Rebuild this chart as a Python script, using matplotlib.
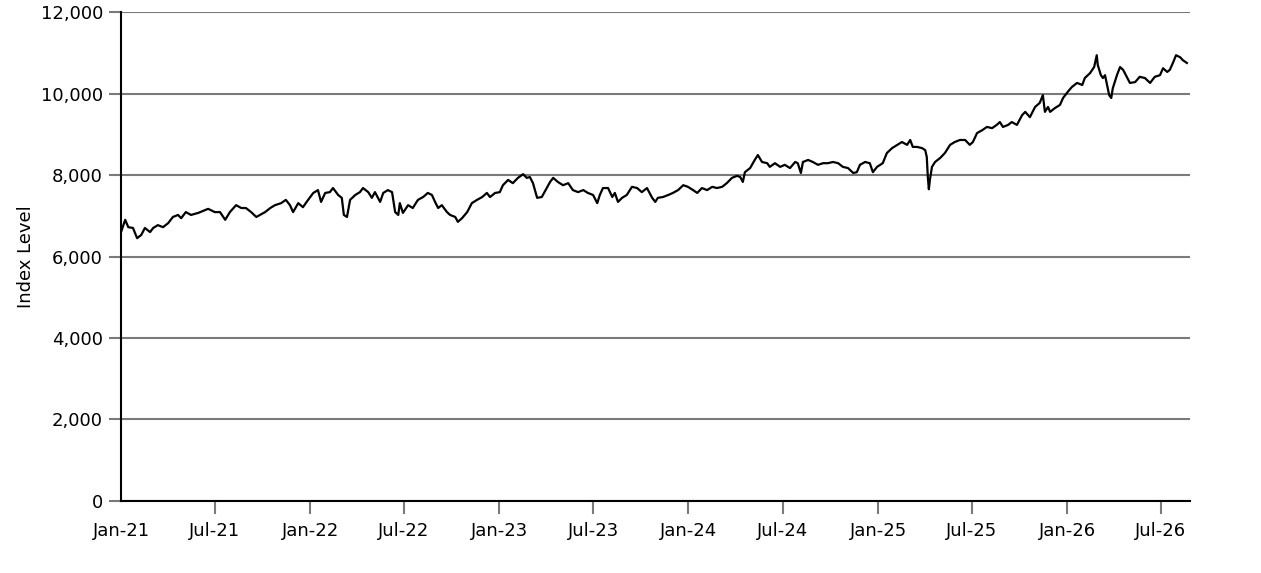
import pandas as pd
import matplotlib
matplotlib.use('Agg')
import matplotlib.pyplot as plt
import matplotlib.dates as mdates
from matplotlib.ticker import FuncFormatter

# index level, month-day per year
days_2021 = ['01-01', '01-09', '01-15', '01-24', '02-01', '02-09', '02-16', '02-26', '03-04', '03-13',
             '03-23', '04-02', '04-11', '04-21', '04-27', '05-06', '05-16', '05-30', '06-12', '06-18',
             '07-01', '07-11', '07-21', '07-30', '08-11', '08-21', '08-30', '09-09', '09-19', '09-26',
             '10-06', '10-16', '10-25', '11-06', '11-15', '11-23', '11-29', '12-09', '12-18', '12-28']
level_2021 = [6600, 6900, 6720, 6700, 6450, 6530, 6700, 6600, 6700, 6770,
              6720, 6820, 6970, 7020, 6940, 7090, 7020, 7070, 7140, 7170,
              7090, 7090, 6900, 7090, 7260, 7190, 7190, 7090, 6970, 7020,
              7090, 7190, 7260, 7310, 7390, 7260, 7090, 7310, 7210, 7390]

days_2022 = ['01-07', '01-16', '01-22', '01-30', '02-08', '02-14', '02-24', '03-03', '03-07', '03-13',
             '03-19', '03-29', '04-07', '04-13', '04-23', '04-30', '05-06', '05-16', '05-22', '05-31',
             '06-08', '06-14', '06-20', '06-23', '06-29', '07-09', '07-18', '07-28', '08-07', '08-16',
             '08-24', '08-30', '09-05', '09-12', '09-22', '09-28', '10-08', '10-13', '10-21', '10-31',
             '11-09', '11-19', '11-29', '12-08', '12-14', '12-24']
level_2022 = [7560, 7630, 7340, 7560, 7580, 7680, 7510, 7440, 7020, 6970,
              7390, 7510, 7580, 7680, 7580, 7440, 7580, 7340, 7560, 7630,
              7580, 7090, 7020, 7310, 7070, 7260, 7190, 7390, 7460, 7560,
              7510, 7340, 7190, 7260, 7090, 7020, 6970, 6850, 6940, 7090,
              7310, 7390, 7460, 7560, 7460, 7560]

days_2023 = ['01-02', '01-08', '01-18', '01-27', '02-06', '02-16', '02-23', '03-01', '03-07', '03-15',
             '03-24', '03-30', '04-09', '04-15', '04-24', '05-04', '05-14', '05-23', '06-02', '06-12',
             '06-21', '07-01', '07-09', '07-14', '07-20', '07-30', '08-07', '08-12', '08-18', '08-26',
             '09-04', '09-14', '09-24', '10-03', '10-13', '10-23', '10-29', '11-03', '11-13', '11-23',
             '12-02', '12-12', '12-22', '12-31']
level_2023 = [7580, 7750, 7880, 7800, 7930, 8020, 7930, 7950, 7800, 7440,
              7460, 7600, 7830, 7930, 7830, 7750, 7800, 7630, 7580, 7630,
              7560, 7510, 7310, 7510, 7680, 7680, 7460, 7560, 7340, 7440,
              7510, 7710, 7680, 7580, 7680, 7440, 7340, 7440, 7460, 7510,
              7560, 7630, 7750, 7710]

days_2024 = ['01-10', '01-18', '01-27', '02-06', '02-16', '02-25', '03-06', '03-15', '03-25', '04-04',
             '04-10', '04-15', '04-19', '04-29', '05-08', '05-14', '05-22', '06-01', '06-06', '06-16',
             '06-26', '07-05', '07-15', '07-25', '07-30', '08-05', '08-09', '08-19', '08-28', '09-07',
             '09-17', '09-26', '10-06', '10-16', '10-25', '11-04', '11-14', '11-21', '11-27', '12-07',
             '12-16', '12-22', '12-30']
level_2024 = [7630, 7560, 7680, 7630, 7710, 7680, 7710, 7800, 7930, 7980,
              7950, 7830, 8070, 8170, 8370, 8490, 8320, 8290, 8200, 8290,
              8200, 8250, 8170, 8320, 8290, 8050, 8320, 8370, 8320, 8250,
              8290, 8290, 8320, 8290, 8200, 8170, 8050, 8070, 8250, 8320,
              8290, 8070, 8200]

days_2025 = ['01-05', '01-10', '01-18', '01-28', '02-07', '02-16', '02-26', '03-04', '03-09', '03-17',
             '03-27', '04-02', '04-05', '04-07', '04-09', '04-11', '04-15', '04-21', '05-01', '05-10',
             '05-20', '05-29', '06-08', '06-18', '06-27', '07-03', '07-11', '07-21', '07-30', '08-09',
             '08-18', '08-24', '08-30', '09-09', '09-16', '09-26', '10-06', '10-12', '10-21', '10-31',
             '11-09', '11-15', '11-19', '11-25', '11-29', '12-08', '12-18', '12-24']
level_2025 = [8250, 8290, 8540, 8660, 8740, 8810, 8740, 8860, 8690, 8690,
              8660, 8610, 8440, 7950, 7650, 7880, 8200, 8320, 8420, 8540,
              8740, 8810, 8860, 8860, 8740, 8810, 9030, 9100, 9180, 9150,
              9230, 9300, 9180, 9230, 9300, 9230, 9470, 9550, 9420, 9670,
              9770, 9960, 9550, 9670, 9550, 9640, 9720, 9890]

days_2026 = ['01-02', '01-10', '01-20', '01-30', '02-04', '02-14', '02-22', '02-27', '03-01', '03-07',
             '03-11', '03-15', '03-19', '03-23', '03-27', '03-30', '04-07', '04-13', '04-19', '04-26',
             '05-02', '05-12', '05-21', '05-31', '06-10', '06-19', '06-29', '07-05', '07-13', '07-18',
             '07-24', '07-30', '08-07', '08-12', '08-20']
level_2026 = [10040, 10160, 10260, 10210, 10380, 10500, 10650, 10940, 10700, 10450,
              10380, 10450, 10210, 9960, 9890, 10130, 10450, 10650, 10580, 10410,
              10260, 10280, 10410, 10380, 10260, 10410, 10450, 10620, 10530, 10580,
              10750, 10940, 10890, 10820, 10750]

years = [2021, 2022, 2023, 2024, 2025, 2026]
all_days = [days_2021, days_2022, days_2023, days_2024, days_2025, days_2026]
all_levels = [level_2021, level_2022, level_2023, level_2024, level_2025, level_2026]

dates, levels = [], []
for yr, dd, lv in zip(years, all_days, all_levels):
    dates += [pd.Timestamp(f"{yr}-{d}") for d in dd]
    levels += lv
series = pd.Series(levels, index=pd.DatetimeIndex(dates))

fig = plt.figure(figsize=(12.61, 5.73), dpi=100)
ax = fig.add_axes([0.096, 0.1257, 0.8477, 0.8533])

ax.plot(series.index, series.values, color='black', linewidth=1.6)

ax.set_xlim(pd.Timestamp('2021-01-01'), pd.Timestamp('2026-08-26'))
ax.set_ylim(0, 12000)
ax.set_yticks(range(0, 12001, 2000))
ax.yaxis.set_major_formatter(FuncFormatter(lambda v, p: f"{int(v):,}"))
ax.xaxis.set_major_locator(mdates.MonthLocator(bymonth=[1, 7]))
ax.xaxis.set_major_formatter(mdates.DateFormatter('%b-%y'))

ax.grid(axis='y', color='#7a7a7a', linewidth=1.5)
ax.set_axisbelow(True)
for spine in ['top', 'right']:
    ax.spines[spine].set_visible(False)
for spine in ['left', 'bottom']:
    ax.spines[spine].set_linewidth(1.5)
    ax.spines[spine].set_color('black')

ax.tick_params(axis='both', colors='#7a7a7a', labelcolor='black', labelsize=13,
               length=9, width=1.5, pad=4)
ax.tick_params(axis='x', pad=6)
ax.xaxis.get_major_ticks()[0].tick1line.set_visible(False)

ax.set_ylabel('Index Level', fontsize=13, labelpad=4)

fig.savefig('out.png', dpi=100)
